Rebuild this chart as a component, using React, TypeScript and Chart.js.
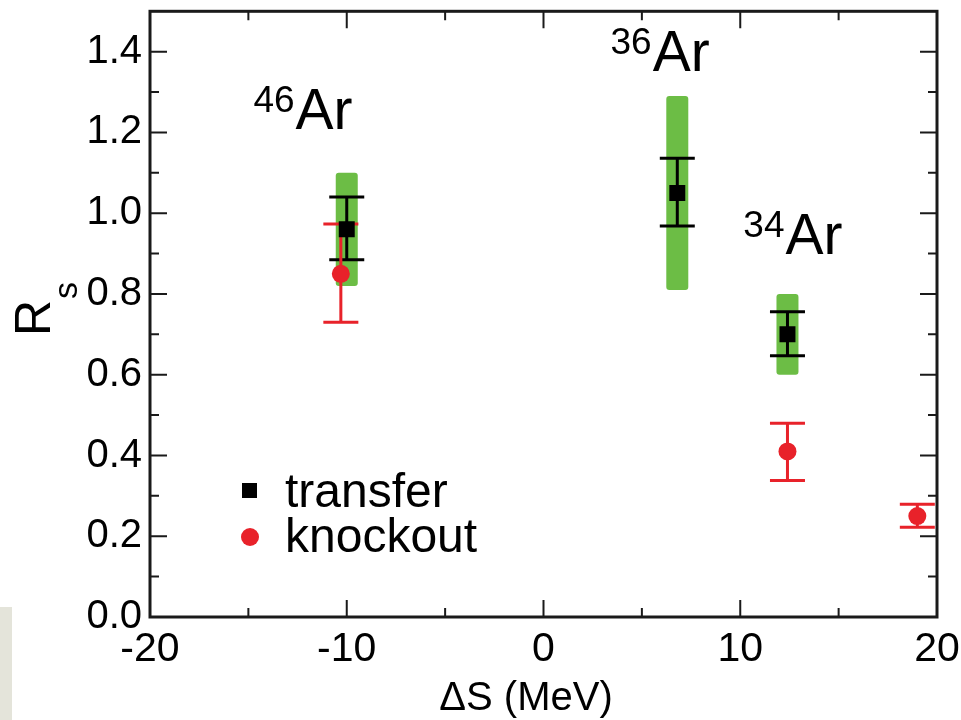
import { useEffect, useRef } from "react"
import { Chart, registerables } from "chart.js"

Chart.register(...registerables)

// transfer points (black squares), ΔS in MeV
const transferX = [-10.0, 6.8, 12.4]
const transferY = [0.96, 1.05, 0.7]
const transferLow = [0.885, 0.968, 0.647]
const transferHigh = [1.04, 1.136, 0.756]
// green systematic bands around the transfer points
const bandLow = [0.82, 0.81, 0.6]
const bandHigh = [1.1, 1.29, 0.8]

// knockout points (red circles)
const knockoutX = [-10.3, 12.4, 19.0]
const knockoutY = [0.85, 0.41, 0.25]
const knockoutLow = [0.73, 0.338, 0.222]
const knockoutHigh = [0.973, 0.48, 0.279]

// axis ticks
const xMajor = [-20, -10, 0, 10, 20]
const xMinor = [-15, -5, 5, 15]
const yMajor = [0, 0.2, 0.4, 0.6, 0.8, 1.0, 1.2, 1.4]
const yMinor = [0.1, 0.3, 0.5, 0.7, 0.9, 1.1, 1.3]

// isotope labels: mass number, left edge of "Ar" and its baseline (data units)
const isotopeMass = ["46", "36", "34"]
const isotopeX = [-12.6, 5.55, 12.3]
const isotopeY = [1.208, 1.352, 0.9]

const GREEN = "#6cbd45"
const RED = "#e8222a"
const FONT = "'Liberation Sans', Arial, sans-serif"

const noPadding = (s: any) => {
  s.paddingTop = 0
  s.paddingBottom = 0
  s.paddingLeft = 0
  s.paddingRight = 0
}

const decorations = {
  id: "decorations",
  beforeDraw(chart: any) {
    const { ctx, width, height } = chart
    ctx.save()
    ctx.fillStyle = "#fff"
    ctx.fillRect(0, 0, width, height)
    ctx.fillStyle = "#e4e4da"
    ctx.fillRect(0, 607, 12, height - 607)
    ctx.restore()
  },
  beforeDatasetsDraw(chart: any) {
    const { ctx } = chart
    const x = chart.scales.x
    const y = chart.scales.y
    ctx.save()
    // bands
    ctx.fillStyle = GREEN
    transferX.forEach((v, i) => {
      const px = x.getPixelForValue(v)
      const top = y.getPixelForValue(bandHigh[i])
      const bottom = y.getPixelForValue(bandLow[i])
      ctx.beginPath()
      ctx.roundRect(px - 11, top, 22, bottom - top, 3)
      ctx.fill()
    })
    // error bars
    const bars = (xs: number[], lo: number[], hi: number[], color: string) => {
      ctx.strokeStyle = color
      ctx.lineWidth = 3
      xs.forEach((v, i) => {
        const px = x.getPixelForValue(v)
        const t = y.getPixelForValue(hi[i])
        const b = y.getPixelForValue(lo[i])
        ctx.beginPath()
        ctx.moveTo(px, t)
        ctx.lineTo(px, b)
        ctx.moveTo(px - 17.5, t)
        ctx.lineTo(px + 17.5, t)
        ctx.moveTo(px - 17.5, b)
        ctx.lineTo(px + 17.5, b)
        ctx.stroke()
      })
    }
    bars(transferX, transferLow, transferHigh, "#000")
    bars(knockoutX, knockoutLow, knockoutHigh, RED)
    ctx.restore()
  },
  afterDraw(chart: any) {
    const { ctx, chartArea: a } = chart
    const x = chart.scales.x
    const y = chart.scales.y
    ctx.save()
    // frame
    ctx.strokeStyle = "#1a1a1a"
    ctx.lineWidth = 3
    ctx.strokeRect(a.left, a.top, a.right - a.left, a.bottom - a.top)
    // inward ticks on all four sides
    ctx.lineWidth = 2
    ctx.beginPath()
    const xt = (vals: number[], len: number) =>
      vals.forEach((v) => {
        const px = x.getPixelForValue(v)
        ctx.moveTo(px, a.bottom)
        ctx.lineTo(px, a.bottom - len)
        ctx.moveTo(px, a.top)
        ctx.lineTo(px, a.top + len)
      })
    const yt = (vals: number[], len: number) =>
      vals.forEach((v) => {
        const py = y.getPixelForValue(v)
        ctx.moveTo(a.left, py)
        ctx.lineTo(a.left + len, py)
        ctx.moveTo(a.right, py)
        ctx.lineTo(a.right - len, py)
      })
    xt(xMajor, 17)
    xt(xMinor, 9)
    yt(yMajor, 17)
    yt(yMinor, 9)
    ctx.stroke()

    // isotope labels
    ctx.fillStyle = "#000"
    ctx.textBaseline = "alphabetic"
    isotopeMass.forEach((m, i) => {
      const px = x.getPixelForValue(isotopeX[i])
      const py = y.getPixelForValue(isotopeY[i])
      ctx.font = `57px ${FONT}`
      ctx.textAlign = "left"
      ctx.fillText("Ar", px, py)
      ctx.font = `37px ${FONT}`
      ctx.textAlign = "right"
      ctx.fillText(m, px - 1, py - 17)
    })

    // legend inside the plot
    const ds = chart.data.datasets
    ctx.textAlign = "left"
    ctx.font = `48px ${FONT}`
    ctx.fillStyle = "#000"
    ctx.fillRect(242, 483, 15, 15)
    ctx.fillText(ds[0].label, 285, 507)
    ctx.fillStyle = RED
    ctx.beginPath()
    ctx.arc(250, 537, 9, 0, Math.PI * 2)
    ctx.fill()
    ctx.fillStyle = "#000"
    ctx.fillText(ds[1].label, 285, 552)

    // axis titles
    ctx.font = `40px ${FONT}`
    ctx.textAlign = "center"
    ctx.fillText("ΔS (MeV)", 526, 710)
    ctx.save()
    ctx.translate(50, 336)
    ctx.rotate(-Math.PI / 2)
    ctx.textAlign = "left"
    ctx.font = `50px ${FONT}`
    ctx.fillText("R", 0, 0)
    const rw = ctx.measureText("R").width
    ctx.font = `34px ${FONT}`
    ctx.fillText("s", rw + 1, 27)
    ctx.restore()

    ctx.restore()
  },
}

function RsChart() {
  const chartRef = useRef<HTMLCanvasElement>(null)
  const chartInstance = useRef<Chart | null>(null)

  useEffect(() => {
    if (!chartRef.current) return
    if (chartInstance.current) chartInstance.current.destroy()

    chartInstance.current = new Chart(chartRef.current, {
      type: "scatter",
      data: {
        datasets: [
          {
            label: "transfer",
            data: transferX.map((v, i) => ({ x: v, y: transferY[i] })),
            pointStyle: "rect",
            pointRadius: 11.3,
            pointHoverRadius: 11.3,
            backgroundColor: "#000",
            borderColor: "#000",
            borderWidth: 0,
          },
          {
            label: "knockout",
            data: knockoutX.map((v, i) => ({ x: v, y: knockoutY[i] })),
            pointStyle: "circle",
            pointRadius: 9,
            pointHoverRadius: 9,
            backgroundColor: RED,
            borderColor: RED,
            borderWidth: 0,
          },
        ],
      },
      options: {
        responsive: false,
        animation: false,
        layout: { padding: { left: 0, top: 10, right: 24, bottom: 0 } },
        scales: {
          x: {
            type: "linear",
            min: -20,
            max: 20,
            grid: { display: false, drawTicks: false },
            border: { display: false },
            afterBuildTicks: (s: any) => {
              s.ticks = xMajor.map((v) => ({ value: v }))
            },
            afterFit: (s: any) => {
              s.height = 103
              noPadding(s)
            },
            ticks: {
              color: "#000",
              padding: 8,
              maxRotation: 0,
              font: { family: FONT, size: 41 },
              callback: (v: any) => String(v),
            },
          },
          y: {
            min: 0,
            max: 1.5,
            grid: { display: false, drawTicks: false },
            border: { display: false },
            afterBuildTicks: (s: any) => {
              s.ticks = yMajor.map((v) => ({ value: v }))
            },
            afterFit: (s: any) => {
              s.width = 150
              noPadding(s)
            },
            ticks: {
              color: "#000",
              padding: 8,
              font: { family: FONT, size: 40 },
              callback: (v: any) => Number(v).toFixed(1),
            },
          },
        },
        plugins: {
          legend: { display: false },
          tooltip: { enabled: false },
        },
      },
      plugins: [decorations],
    })

    return () => {
      if (chartInstance.current) {
        chartInstance.current.destroy()
        chartInstance.current = null
      }
    }
  }, [])

  return <canvas ref={chartRef} width={961} height={720} />
}

export default function App() {
  return (
    <div style={{ position: "absolute", left: 0, top: 0, width: 961, height: 720, background: "#fff" }}>
      <RsChart />
    </div>
  )
}
